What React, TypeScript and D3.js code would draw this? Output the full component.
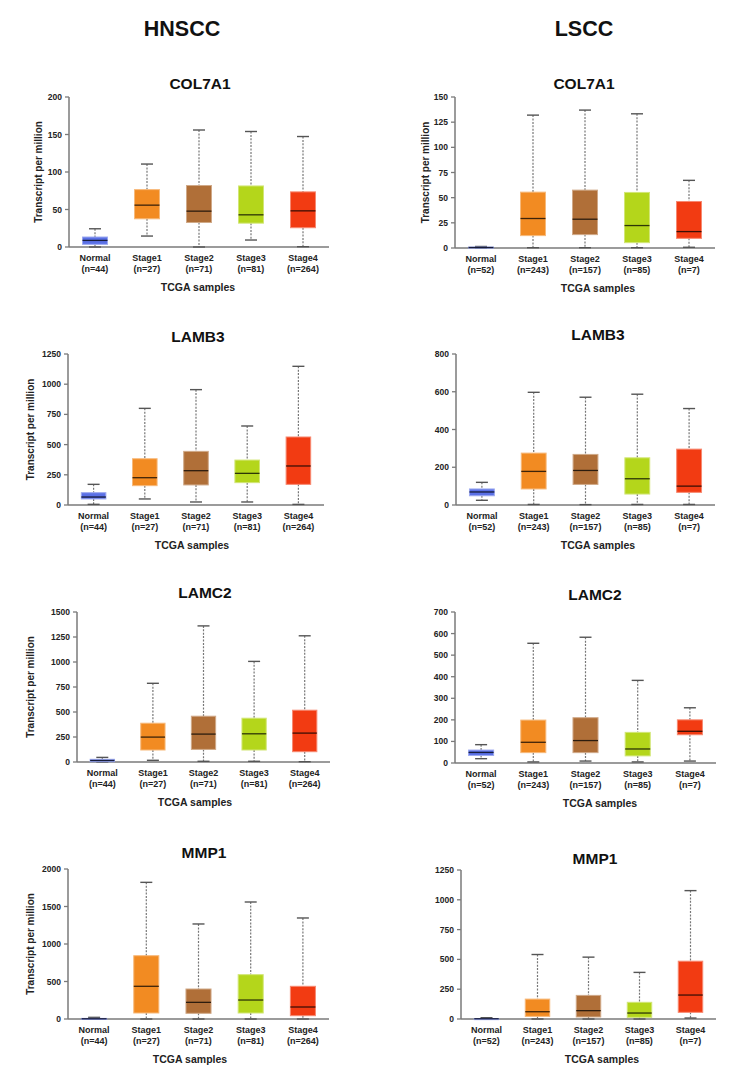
import React from "react";
import * as d3 from "d3";

// Sample groups shown on every x axis
const categories = ["Normal", "Stage1", "Stage2", "Stage3", "Stage4"];
const hnsccCounts = ["(n=44)", "(n=27)", "(n=71)", "(n=81)", "(n=264)"];
const lsccCounts = ["(n=52)", "(n=243)", "(n=157)", "(n=85)", "(n=7)"];

// Box statistics per group: [lower whisker, Q1, median, Q3, upper whisker]
const hnsccCol7a1 = [
  [0, 3.5, 8.8, 13.3, 24.3],
  [14.6, 37.6, 55.8, 76.5, 110.6],
  [0, 32.7, 47.8, 82, 156],
  [9.3, 31.8, 42.9, 81.4, 154],
  [0.4, 25.7, 48.2, 73.5, 147.3],
];
const lsccCol7a1 = [
  [0, 0.2, 0.5, 0.9, 1.5],
  [0.3, 12.3, 29.3, 55.5, 132],
  [0.3, 13.3, 28.6, 57.5, 137],
  [0.3, 5.3, 22.3, 55.2, 133.3],
  [0.7, 9.6, 16.3, 46.2, 67.2],
];
const hnsccLamb3 = [
  [5.5, 50, 66, 102, 171],
  [50, 160, 226, 383, 800],
  [25, 166, 284, 444, 955],
  [25, 185, 262, 372, 654],
  [5, 171, 323, 563, 1148],
];
const lsccLamb3 = [
  [25, 49, 69, 85, 120],
  [3, 85, 178, 275, 597],
  [2, 109, 183, 268, 571],
  [3, 58, 139, 250, 587],
  [3, 67, 100, 296, 511],
];
const hnsccLamc2 = [
  [0, 3, 15, 27, 46],
  [17, 120, 249, 388, 787],
  [7, 126, 279, 458, 1361],
  [7, 120, 282, 438, 1006],
  [3, 103, 289, 518, 1262],
];
const lsccLamc2 = [
  [20, 35, 49, 60, 85],
  [5, 48, 96, 199, 555],
  [9, 48, 104, 210, 583],
  [5, 33, 65, 142, 383],
  [9, 131, 147, 200, 256],
];
const hnsccMmp1 = [
  [0, 1, 3, 8, 22],
  [0, 80, 436, 844, 1822],
  [0, 76, 222, 400, 1267],
  [0, 80, 253, 591, 1560],
  [0, 44, 160, 436, 1347],
];
const lsccMmp1 = [
  [0, 0.5, 2, 3, 11],
  [0, 22, 61, 167, 541],
  [0, 17, 70, 198, 519],
  [0, 14, 50, 140, 391],
  [8, 56, 201, 485, 1077],
];

// Y-axis extents and tick steps
const hnsccMax = [200, 1250, 1500, 2000];
const hnsccStep = [50, 250, 250, 500];
const lsccMax = [150, 800, 700, 1250];
const lsccStep = [25, 200, 100, 250];

const genes = ["COL7A1", "LAMB3", "LAMC2", "MMP1"];
const cohorts = ["HNSCC", "LSCC"];

const groupColors = ["#5a70e6", "#f28b22", "#b06f38", "#b4d61b", "#f23b12"];

const FONT = "'Liberation Sans', Arial, Helvetica, sans-serif";

type Layout = {
  left: number;
  right: number;
  top: number;
  bottom: number;
  titleX: number;
  titleY: number;
  yLabelX: number | null;
  xLabelX: number;
};

// Panel frames, row by row: [HNSCC, LSCC]
const layouts: Layout[][] = [
  [
    { left: 69, right: 329, top: 97, bottom: 247, titleX: 200, titleY: 83, yLabelX: 38, xLabelX: 198 },
    { left: 455, right: 715, top: 97, bottom: 248, titleX: 584, titleY: 83, yLabelX: 425, xLabelX: 598 },
  ],
  [
    { left: 68, right: 324, top: 354, bottom: 505, titleX: 198, titleY: 336, yLabelX: 30, xLabelX: 192 },
    { left: 456, right: 715, top: 354, bottom: 505, titleX: 598, titleY: 334, yLabelX: null, xLabelX: 598 },
  ],
  [
    { left: 77, right: 330, top: 612, bottom: 762, titleX: 205, titleY: 592, yLabelX: 30, xLabelX: 195 },
    { left: 455, right: 716, top: 612, bottom: 763, titleX: 595, titleY: 594, yLabelX: null, xLabelX: 600 },
  ],
  [
    { left: 68, right: 329, top: 869, bottom: 1019, titleX: 204, titleY: 852, yLabelX: 30, xLabelX: 190 },
    { left: 461, right: 716, top: 870, bottom: 1019, titleX: 595, titleY: 858, yLabelX: null, xLabelX: 602 },
  ],
];

const headerX = [182, 584];

function BoxPanel(props: {
  gene: string;
  stats: number[][];
  counts: string[];
  max: number;
  step: number;
  layout: Layout;
}) {
  const { gene, stats, counts, max, step, layout: L } = props;
  const x = d3.scaleBand<string>().domain(categories).range([L.left, L.right]).padding(0);
  const y = d3.scaleLinear().domain([0, max]).range([L.bottom, L.top]);
  const ticks = d3.range(0, max + step / 2, step);
  const boxW = x.bandwidth() * 0.48;
  const capW = 12;
  const axisColor = "#7a7a7a";

  return (
    <g>
      <text
        x={L.titleX}
        y={L.titleY}
        textAnchor="middle"
        dominantBaseline="central"
        fontFamily={FONT}
        fontWeight="bold"
        fontSize={15.5}
        fill="#111"
      >
        {gene}
      </text>

      {/* y axis */}
      <line x1={L.left} x2={L.left} y1={L.top} y2={L.bottom} stroke={axisColor} strokeWidth={1.5} />
      {ticks.map((t) => (
        <g key={t}>
          <line x1={L.left - 4} x2={L.left} y1={y(t)} y2={y(t)} stroke={axisColor} strokeWidth={1.3} />
          <text
            x={L.left - 7}
            y={y(t)}
            textAnchor="end"
            dominantBaseline="central"
            fontFamily={FONT}
            fontWeight="bold"
            fontSize={8.5}
            fill="#222"
          >
            {t}
          </text>
        </g>
      ))}
      {/* x axis */}
      <line x1={L.left} x2={L.right} y1={L.bottom} y2={L.bottom} stroke={axisColor} strokeWidth={1.5} />

      {stats.map((s, i) => {
        const [lo, q1, med, q3, hi] = s;
        const cx = (x(categories[i]) as number) + x.bandwidth() / 2;
        const fill = groupColors[i];
        const edge = d3.interpolateRgb(fill, "#ffffff")(0.4);
        const medColor = d3.interpolateRgb(fill, "#000000")(0.75);
        const boxTop = y(q3);
        const boxH = Math.max(y(q1) - y(q3), 1);
        return (
          <g key={categories[i]}>
            <line x1={cx} x2={cx} y1={y(hi)} y2={y(q3)} stroke="#777" strokeWidth={1.2} strokeDasharray="2,1.4" />
            <line x1={cx} x2={cx} y1={y(q1)} y2={y(lo)} stroke="#777" strokeWidth={1.2} strokeDasharray="2,1.4" />
            <line x1={cx - capW / 2} x2={cx + capW / 2} y1={y(hi)} y2={y(hi)} stroke="#555" strokeWidth={1.4} />
            <line x1={cx - capW / 2} x2={cx + capW / 2} y1={y(lo)} y2={y(lo)} stroke="#555" strokeWidth={1.4} />
            <rect x={cx - boxW / 2} y={boxTop} width={boxW} height={boxH} fill={fill} stroke={edge} strokeWidth={1} />
            <line x1={cx - boxW / 2} x2={cx + boxW / 2} y1={y(med)} y2={y(med)} stroke={medColor} strokeWidth={1.3} />
            <text
              x={cx}
              y={L.bottom + 14}
              textAnchor="middle"
              fontFamily={FONT}
              fontWeight="bold"
              fontSize={9}
              fill="#222"
            >
              {categories[i]}
            </text>
            <text
              x={cx}
              y={L.bottom + 25}
              textAnchor="middle"
              fontFamily={FONT}
              fontWeight="bold"
              fontSize={9}
              fill="#222"
            >
              {counts[i]}
            </text>
          </g>
        );
      })}

      {L.yLabelX !== null && (
        <text
          transform={`translate(${L.yLabelX},${(L.top + L.bottom) / 2}) rotate(-90)`}
          textAnchor="middle"
          dominantBaseline="central"
          fontFamily={FONT}
          fontWeight="bold"
          fontSize={10}
          fill="#222"
        >
          Transcript per million
        </text>
      )}
      <text
        x={L.xLabelX}
        y={L.bottom + 40}
        textAnchor="middle"
        dominantBaseline="central"
        fontFamily={FONT}
        fontWeight="bold"
        fontSize={10.5}
        fill="#222"
      >
        TCGA samples
      </text>
    </g>
  );
}

export default function App() {
  const hnsccData = [hnsccCol7a1, hnsccLamb3, hnsccLamc2, hnsccMmp1];
  const lsccData = [lsccCol7a1, lsccLamb3, lsccLamc2, lsccMmp1];
  return (
    <svg
      width={750}
      height={1068}
      viewBox="0 0 750 1068"
      style={{ position: "absolute", left: 0, top: 0, background: "#fff" }}
    >
      <rect width={750} height={1068} fill="#fff" />
      {cohorts.map((c, ci) => (
        <text
          key={c}
          x={headerX[ci]}
          y={29}
          textAnchor="middle"
          dominantBaseline="central"
          fontFamily={FONT}
          fontWeight="bold"
          fontSize={21.5}
          fill="#111"
        >
          {c}
        </text>
      ))}
      {genes.map((g, gi) => (
        <g key={g}>
          <BoxPanel
            gene={g}
            stats={hnsccData[gi]}
            counts={hnsccCounts}
            max={hnsccMax[gi]}
            step={hnsccStep[gi]}
            layout={layouts[gi][0]}
          />
          <BoxPanel
            gene={g}
            stats={lsccData[gi]}
            counts={lsccCounts}
            max={lsccMax[gi]}
            step={lsccStep[gi]}
            layout={layouts[gi][1]}
          />
        </g>
      ))}
    </svg>
  );
}
